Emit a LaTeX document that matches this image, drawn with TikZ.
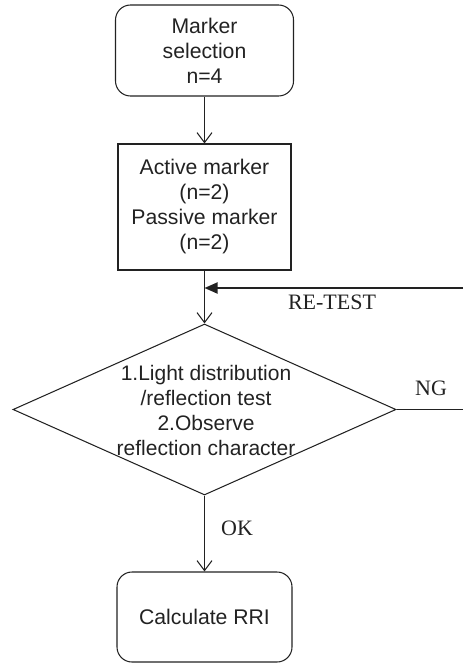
\documentclass[tikz,border=0pt]{standalone}
\usepackage{fontspec}
\setmainfont{Liberation Sans}
\newfontfamily\labelfont{Liberation Serif}
\usetikzlibrary{arrows.meta,shapes.geometric}
\definecolor{ink}{HTML}{222222}
\tikzset{
  every node/.style={text=ink},
  box/.style={draw=ink, line width=1.05pt, inner sep=0pt, align=center,
    font=\fontsize{21.2}{25}\selectfont},
  rbox/.style={box, rounded corners=15pt},
  dia/.style={draw=ink, line width=1.05pt, diamond, inner sep=0pt},
  flow/.style={draw=ink, line width=1.05pt, -{Straight Barb[length=10pt,width=15pt]}},
  back/.style={draw=ink, line width=1.8pt, -{Triangle[length=13pt,width=11pt]}},
  plain/.style={draw=ink, line width=1.05pt},
  lbl/.style={font=\labelfont\fontsize{22}{26}\selectfont, inner sep=0pt},
  dtext/.style={align=center, inner sep=0pt, font=\fontsize{21}{25}\selectfont}
}
\begin{document}
\begin{tikzpicture}[x=1pt,y=1pt]
\useasboundingbox (0,0) rectangle (463,-663);
\node[rbox, minimum width=178pt, minimum height=91pt] (b1) at (204.5,-50.5)
  {Marker\\selection\\n=4};
\node[box, minimum width=173pt, minimum height=126pt] (b2) at (204.5,-207)
  {Active marker\\(n=2)\\Passive marker\\(n=2)};
\node[dia, minimum width=383pt, minimum height=171pt] (d) at (204.5,-409.5) {};
\node[dtext] (dt) at (206,-410.5)
  {1.Light distribution\\/reflection test\\2.Observe\\reflection character};
\node[rbox, minimum width=175pt, minimum height=90pt] (b3) at (204.5,-617)
  {Calculate RRI};
\coordinate (join) at (204.5,-288);
\coordinate (retest) at (463,-288);
\coordinate (ngend) at (463,-409.5);
\draw[flow] (b1.south) -- (b2.north);
\draw[flow] (b2.south) -- (d.north);
\draw[back] (retest) -- (join);
\draw[plain] (d.east) -- (ngend);
\draw[flow] (d.south) -- (b3.north);
\node[lbl] (lre) at (332,-302) {RE-TEST};
\node[lbl] (lng) at (431,-388) {NG};
\node[lbl] (lok) at (237,-528) {OK};
\end{tikzpicture}
\end{document}
